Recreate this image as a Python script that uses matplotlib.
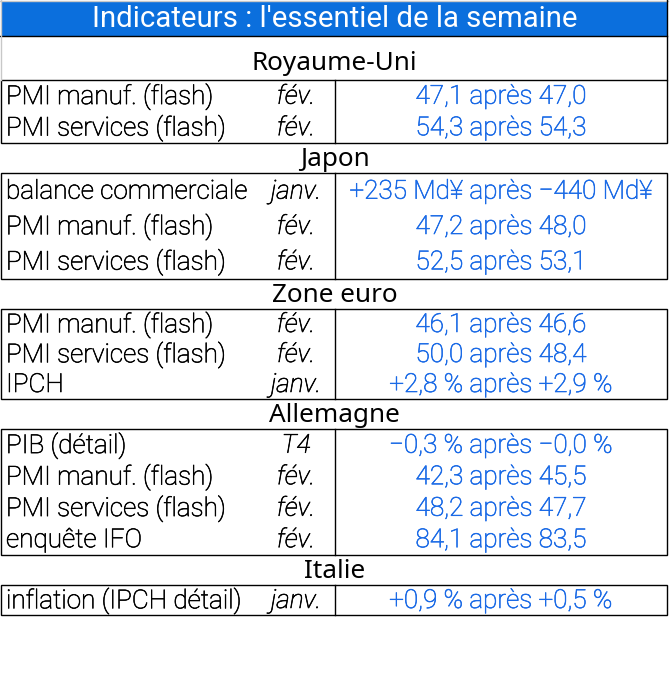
import matplotlib.pyplot as plt
import matplotlib.patheffects as pe
from matplotlib.patches import Rectangle

# data
title = "Indicateurs : l'essentiel de la semaine"
sections = ['Royaume-Uni', 'Japon', 'Zone euro', 'Allemagne', 'Italie']
labels = [
    ['PMI manuf. (flash)', 'PMI services (flash)'],
    ['balance commerciale', 'PMI manuf. (flash)', 'PMI services (flash)'],
    ['PMI manuf. (flash)', 'PMI services (flash)', 'IPCH'],
    ['PIB (détail)', 'PMI manuf. (flash)', 'PMI services (flash)', 'enquête IFO'],
    ['inflation (IPCH détail)'],
]
periods = [
    ['fév.', 'fév.'],
    ['janv.', 'fév.', 'fév.'],
    ['fév.', 'fév.', 'janv.'],
    ['T4', 'fév.', 'fév.', 'fév.'],
    ['janv.'],
]
values = [
    ['47,1 après 47,0', '54,3 après 54,3'],
    ['+235 Md¥ après \u2212440 Md¥', '47,2 après 48,0', '52,5 après 53,1'],
    ['46,1 après 46,6', '50,0 après 48,4', '+2,8 % après +2,9 %'],
    ['\u22120,3 % après \u22120,0 %', '42,3 après 45,5', '48,2 après 47,7', '84,1 après 83,5'],
    ['+0,9 % après +0,5 %'],
]

# layout in pixels
W, H = 671, 676
head_h = 36
sec_h = [44, 30, 30, 30, 30]
box_h = [63, 106, 90, 126, 30]
x_left, x_right, x_div = 1, 667, 335
BLUE_HEAD = '#0b6fdd'
BLUE_TXT = '#1a6ae6'
FS = 18.8


def thick(color):
    # roboto light is a bit too thin on its own
    return [pe.withStroke(linewidth=0.45, foreground=color)]


fig = plt.figure(figsize=(W / 100, H / 100), dpi=100)
ax = fig.add_axes([0, 0, 1, 1])
ax.set_xlim(0, W)
ax.set_ylim(H, 0)
ax.axis('off')

# header bar
ax.add_patch(Rectangle((x_left, 1), x_right - x_left, head_h - 1, color=BLUE_HEAD, lw=0))
ax.text(334.5, head_h / 2 + 1, title, color='white', fontsize=21.2,
        family='Roboto', ha='center', va='center')
ax.plot([0, x_right], [head_h, head_h], color='black', lw=1)
ax.plot([0, x_right + 1], [0.5, 0.5], color='#c8c8c8', lw=1)
ax.plot([0.5, 0.5], [0, head_h + sec_h[0]], color='#c8c8c8', lw=1)
ax.plot([x_right, x_right], [0, head_h + sec_h[0]], color='black', lw=1)

y = head_h
for i, sec in enumerate(sections):
    ax.text(334.5, y + sec_h[i] / 2 + 1 + (5 if i == 0 else 0), sec, fontsize=18.8,
            family='Noto Sans', weight='medium', ha='center', va='center', color='black')
    y += sec_h[i]
    top = y
    ax.add_patch(Rectangle((x_left, top), x_right - x_left, box_h[i], fill=False,
                           ec='black', lw=1))
    ax.plot([x_div, x_div], [top, top + box_h[i]], color='black', lw=1)
    n = len(labels[i])
    rh = box_h[i] / n
    for j in range(n):
        yc = top + rh * (j + 0.5) + 1
        ax.text(6, yc, labels[i][j], fontsize=FS, family='Roboto', weight='light',
                ha='left', va='center', color='black', path_effects=thick('black'))
        ax.text(296, yc, periods[i][j], fontsize=FS, family='Roboto', weight='light',
                style='italic', ha='center', va='center', color='black',
                path_effects=thick('black'))
        ax.text(501, yc, values[i][j], fontsize=FS, family='Roboto', weight='light',
                ha='center', va='center', color=BLUE_TXT, path_effects=thick(BLUE_TXT))
    y += box_h[i]

fig.savefig('out.png', dpi=100)
